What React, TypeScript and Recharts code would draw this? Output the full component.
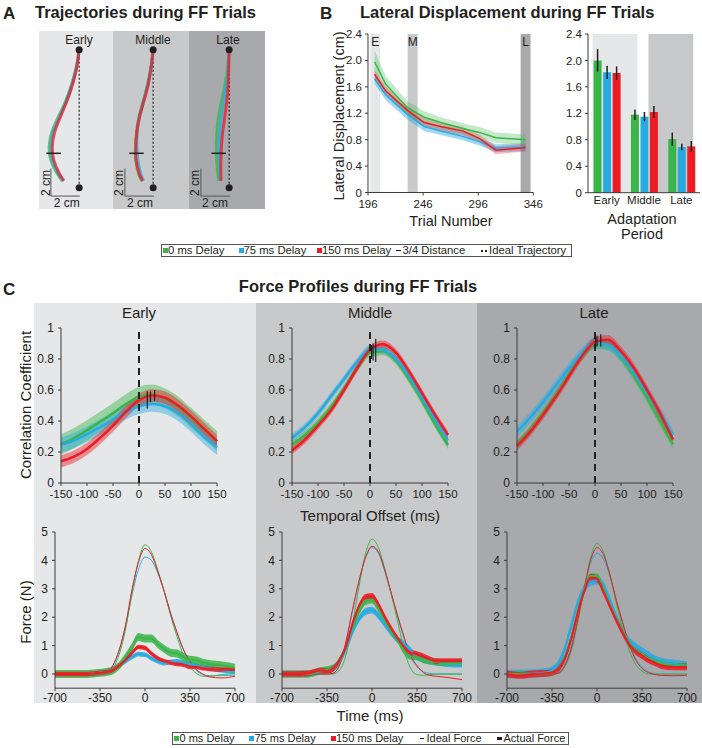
import React from 'react';
import {
  Area,
  Bar,
  BarChart,
  ComposedChart,
  ErrorBar,
  Line,
  LineChart,
  ReferenceArea,
  ReferenceDot,
  ReferenceLine,
  XAxis,
  YAxis,
} from 'recharts';

const FONT = '"Liberation Sans", Arial, Helvetica, sans-serif';
const GREEN = '#39b54a';
const BLUE = '#27aae1';
const RED = '#ed1c24';
const INK = '#231f20';
const BG_EARLY = '#e6e7e8';
const BG_MIDDLE = '#c8c9cb';
const BG_LATE = '#a7a9ac';
const SERIES_COLORS = [GREEN, BLUE, RED];
const PERIOD_BG = [BG_EARLY, BG_MIDDLE, BG_LATE];

// ---- A: hand paths (cm). forward = distance from the lower dot, lateral = offset from the ideal line
const TRAJ_FWD = [10, 9, 8, 7, 6, 5, 4, 3, 2, 1, 0.5];
const trajEarly0 = [0, -0.15, -0.38, -0.68, -1.05, -1.5, -1.9, -2.07, -1.95, -1.5, -1.15];
const trajEarly75 = [0, -0.13, -0.35, -0.64, -1.0, -1.42, -1.8, -1.95, -1.85, -1.42, -1.1];
const trajEarly150 = [0, -0.12, -0.32, -0.6, -0.95, -1.35, -1.7, -1.85, -1.75, -1.35, -1.05];
const trajMiddle0 = [0, -0.12, -0.28, -0.5, -0.76, -1.0, -1.15, -1.22, -1.2, -1.0, -0.78];
const trajMiddle75 = [0, -0.1, -0.26, -0.47, -0.73, -0.97, -1.1, -1.12, -1.05, -0.85, -0.65];
const trajMiddle150 = [0, -0.1, -0.25, -0.45, -0.72, -0.97, -1.13, -1.2, -1.17, -0.95, -0.72];
const trajLate0 = [0, -0.08, -0.2, -0.38, -0.58, -0.75, -0.85, -0.88, -0.86, -0.78, -0.72];
const trajLate75 = [0, -0.05, -0.12, -0.25, -0.4, -0.55, -0.66, -0.7, -0.7, -0.65, -0.62];
const trajLate150 = [0, -0.02, -0.05, -0.1, -0.2, -0.32, -0.45, -0.53, -0.57, -0.57, -0.56];
const QUARTER_FWD = 2.5;
const quarterCentre = [-1.76, -1.15, -0.72];

// ---- B: lateral displacement over trials
const TRIALS = [202, 212, 232, 247, 262, 282, 297, 312, 339];
const disp0 = [1.98, 1.64, 1.28, 1.14, 1.06, 0.97, 0.91, 0.83, 0.8];
const disp75 = [1.72, 1.48, 1.18, 1.0, 0.93, 0.85, 0.77, 0.67, 0.69];
const disp150 = [1.79, 1.54, 1.24, 1.06, 1.0, 0.93, 0.82, 0.64, 0.68];
const dispSd0 = [0.17, 0.12, 0.1, 0.09, 0.08, 0.08, 0.08, 0.08, 0.08];
const dispSd75 = [0.07, 0.08, 0.08, 0.07, 0.06, 0.06, 0.06, 0.06, 0.06];
const dispSd150 = [0.07, 0.07, 0.07, 0.07, 0.06, 0.06, 0.06, 0.06, 0.06];
const PERIOD_TRIALS = [[198, 207], [232, 241], [334.5, 343.5]];
const PERIOD_LETTERS = ['E', 'M', 'L'];

const PERIODS = ['Early', 'Middle', 'Late'];
const bar0 = [2.0, 1.18, 0.81];
const bar75 = [1.82, 1.15, 0.69];
const bar150 = [1.81, 1.22, 0.7];
const barErr0 = [0.17, 0.08, 0.1];
const barErr75 = [0.1, 0.07, 0.05];
const barErr150 = [0.1, 0.09, 0.08];

// ---- C top: correlation vs temporal offset
const LAGS = [-150, -125, -100, -75, -50, -25, 0, 25, 50, 75, 100, 125, 150];
const corrEarly0 = [0.25, 0.29, 0.34, 0.395, 0.45, 0.51, 0.555, 0.57, 0.545, 0.495, 0.42, 0.345, 0.27];
const corrEarly75 = [0.245, 0.275, 0.315, 0.36, 0.41, 0.46, 0.495, 0.51, 0.495, 0.45, 0.38, 0.3, 0.23];
const corrEarly150 = [0.14, 0.17, 0.22, 0.29, 0.37, 0.46, 0.535, 0.565, 0.55, 0.5, 0.43, 0.35, 0.27];
const corrMiddle0 = [0.25, 0.31, 0.39, 0.49, 0.61, 0.74, 0.84, 0.85, 0.79, 0.67, 0.53, 0.38, 0.245];
const corrMiddle75 = [0.29, 0.36, 0.45, 0.56, 0.67, 0.78, 0.865, 0.86, 0.8, 0.69, 0.55, 0.41, 0.275];
const corrMiddle150 = [0.21, 0.28, 0.37, 0.47, 0.6, 0.74, 0.86, 0.895, 0.84, 0.72, 0.58, 0.44, 0.31];
const corrLate0 = [0.25, 0.34, 0.45, 0.57, 0.7, 0.82, 0.895, 0.89, 0.81, 0.69, 0.55, 0.4, 0.25];
const corrLate75 = [0.33, 0.42, 0.52, 0.63, 0.74, 0.84, 0.905, 0.89, 0.82, 0.71, 0.58, 0.45, 0.31];
const corrLate150 = [0.24, 0.33, 0.44, 0.56, 0.69, 0.82, 0.91, 0.925, 0.85, 0.74, 0.6, 0.45, 0.28];
const corrSdEarly = [0.065, 0.05, 0.04];
const corrSdMiddle = [0.025, 0.025, 0.025];
const corrSdLate = [0.03, 0.035, 0.03];
const peakLagEarly = [16, 22, 30];
const peakLoEarly = [0.48, 0.52, 0.53];
const peakHiEarly = [0.59, 0.59, 0.6];
const peakLagMiddle = [3, 6, 11];
const peakLoMiddle = [0.8, 0.79, 0.78];
const peakHiMiddle = [0.89, 0.9, 0.93];
const peakLagLate = [1, 4, 11];
const peakLoLate = [0.88, 0.88, 0.88];
const peakHiLate = [0.94, 0.95, 0.96];

// ---- C bottom: force over time (N)
const TIME = [-700, -600, -500, -400, -350, -300, -250, -200, -150, -100, -50, 0, 50, 100, 150, 200, 250, 300, 350, 400, 450, 500, 600, 700];
const idealEarly0 = [0, 0, 0, 0, 0, 0.02, 0.2, 0.7, 1.6, 2.9, 4.0, 4.55, 4.3, 3.65, 2.9, 2.05, 1.3, 0.65, 0.25, 0.02, -0.08, -0.08, -0.02, 0.02];
const idealEarly75 = [0, 0, 0, 0, 0, 0.03, 0.3, 0.85, 1.7, 2.8, 3.7, 4.12, 4.0, 3.55, 2.9, 2.15, 1.45, 0.85, 0.4, 0.12, -0.02, -0.06, -0.06, -0.04];
const idealEarly150 = [0, 0, 0, 0, 0, 0.03, 0.3, 0.85, 1.75, 3.0, 3.95, 4.42, 4.2, 3.6, 2.9, 2.1, 1.45, 0.85, 0.45, 0.15, 0.0, -0.1, -0.14, -0.08];
const actEarly0 = [0, 0, 0, 0.02, 0.04, 0.07, 0.13, 0.3, 0.6, 0.95, 1.3, 1.25, 1.25, 1.05, 0.88, 0.75, 0.72, 0.6, 0.5, 0.48, 0.4, 0.35, 0.3, 0.22];
const actEarly75 = [0, 0, 0, 0.02, 0.05, 0.08, 0.15, 0.3, 0.45, 0.6, 0.7, 0.68, 0.55, 0.45, 0.38, 0.42, 0.45, 0.4, 0.35, 0.3, 0.25, 0.2, 0.12, 0.07];
const actEarly150 = [0, 0, 0, 0.02, 0.04, 0.07, 0.14, 0.3, 0.5, 0.75, 0.95, 0.92, 0.72, 0.55, 0.45, 0.4, 0.35, 0.33, 0.25, 0.25, 0.2, 0.18, 0.15, 0.15];
const idealMiddle0 = [0, 0, 0, 0, 0, 0, 0.15, 0.7, 1.8, 3.1, 4.25, 4.75, 4.45, 3.7, 2.8, 1.85, 0.85, 0.2, -0.02, -0.05, -0.02, 0, 0, 0];
const idealMiddle75 = [0, 0, 0, 0, 0, 0.03, 0.35, 1.15, 2.25, 3.3, 4.1, 4.45, 4.25, 3.6, 2.8, 2.0, 1.25, 0.6, 0.25, 0.08, 0.02, 0, 0, 0];
const idealMiddle150 = [0, 0, 0, 0, 0, 0.03, 0.35, 1.2, 2.3, 3.3, 4.1, 4.5, 4.3, 3.65, 2.85, 2.05, 1.3, 0.65, 0.3, 0.05, -0.05, -0.08, -0.13, -0.2];
const actMiddle0 = [0, 0, 0, 0.12, 0.15, 0.22, 0.5, 1.0, 1.65, 2.2, 2.55, 2.6, 2.3, 1.9, 1.5, 1.2, 0.8, 0.62, 0.6, 0.5, 0.45, 0.42, 0.4, 0.4];
const actMiddle75 = [0, 0, 0, 0.1, 0.12, 0.2, 0.45, 0.9, 1.5, 1.95, 2.2, 2.25, 2.05, 1.75, 1.45, 1.2, 1.05, 0.82, 0.6, 0.52, 0.45, 0.42, 0.36, 0.35];
const actMiddle150 = [0, 0, 0.02, 0.12, 0.1, 0.2, 0.5, 1.0, 1.8, 2.4, 2.72, 2.75, 2.45, 2.0, 1.6, 1.25, 0.95, 0.75, 0.7, 0.62, 0.52, 0.45, 0.45, 0.45];
const idealLate0 = [0, 0, 0, 0, 0, 0.02, 0.25, 0.8, 1.8, 3.0, 4.1, 4.6, 4.3, 3.5, 2.5, 1.6, 0.85, 0.35, 0.1, 0.0, 0, 0, 0, 0];
const idealLate75 = [0, 0, 0, 0, 0, 0.05, 0.35, 1.0, 2.0, 3.0, 3.9, 4.25, 4.05, 3.45, 2.6, 1.8, 1.1, 0.55, 0.25, 0.08, 0.02, 0, 0, 0];
const idealLate150 = [0, 0, 0, 0, 0, 0.03, 0.3, 0.9, 1.9, 3.0, 4.0, 4.45, 4.2, 3.5, 2.6, 1.8, 1.05, 0.5, 0.2, 0.05, -0.02, -0.05, -0.06, -0.05];
const actLate0 = [0, 0, 0, 0.02, 0.05, 0.2, 0.6, 1.3, 2.2, 2.95, 3.45, 3.45, 3.0, 2.45, 1.95, 1.5, 1.1, 0.85, 0.7, 0.55, 0.45, 0.38, 0.3, 0.3];
const actLate75 = [0, 0, 0.02, 0.05, 0.12, 0.35, 0.9, 1.7, 2.5, 3.0, 3.25, 3.3, 3.1, 2.6, 2.0, 1.5, 1.15, 0.95, 0.8, 0.65, 0.5, 0.42, 0.35, 0.3];
const actLate150 = [0, -0.05, 0, 0.02, 0.05, 0.18, 0.55, 1.25, 2.15, 2.9, 3.4, 3.35, 2.9, 2.4, 1.9, 1.45, 1.05, 0.8, 0.65, 0.5, 0.4, 0.3, 0.25, 0.25];
const forceSdEarly = [0.14, 0.08, 0.08];
const forceSdMiddle = [0.12, 0.12, 0.1];
const forceSdLate = [0.1, 0.15, 0.12];

const tickStyle = { fontSize: 12, fill: INK, fontFamily: FONT };
const tickStyleC = { fontSize: 11.5, fill: INK, fontFamily: FONT };
const tickStyleB = { fontSize: 11.5, fill: INK, fontFamily: FONT };
const axisStroke = { stroke: '#3a3a3a' };
const oneDecimal = (v: number) => (v === 0 ? '0' : v.toFixed(1));
const corrFormat = (v: number) => (v === 0 || v === 1 ? String(v) : v.toFixed(1));

const Txt = ({ x, y, size = 12, bold = false, vertical = false, start = false, children }: any) => (
  <div
    style={{
      position: 'absolute',
      left: x,
      top: y,
      transform: `translate(${start ? '0' : '-50%'}, -50%)${vertical ? ' rotate(-90deg)' : ''}`,
      fontSize: size,
      fontWeight: bold ? 700 : 400,
      lineHeight: 1,
      whiteSpace: 'nowrap',
      color: INK,
    }}
  >
    {children}
  </div>
);

const Panel = ({ left, top, width, height, color }: any) => (
  <div style={{ position: 'absolute', left, top, width, height, background: color }} />
);

const TrajPanel = ({ dotX, lats, quarter }: any) => {
  const pts = (lat: number[]) => TRAJ_FWD.map((y, i) => ({ x: lat[i], y }));
  return (
    <div style={{ position: 'absolute', left: dotX - 2.7 * 14.5, top: 36.2 }}>
      <LineChart width={72.5} height={172.5} margin={{ top: 0, right: 0, bottom: 0, left: 0 }}>
        <XAxis type="number" dataKey="x" domain={[-2.7, 2.3]} hide allowDataOverflow />
        <YAxis type="number" domain={[-1.5, 11]} hide allowDataOverflow />
        <ReferenceLine segment={[{ x: 0, y: 0 }, { x: 0, y: 10 }]} stroke={INK} strokeWidth={1.2} strokeDasharray="2 2" />
        <ReferenceDot x={0} y={0} r={3.5} fill={INK} stroke="none" />
        <ReferenceDot x={0} y={10} r={3.5} fill={INK} stroke="none" />
        {lats.map((lat: number[], k: number) => (
          <Line
            key={k}
            data={pts(lat)}
            dataKey="y"
            type="natural"
            stroke={SERIES_COLORS[k]}
            strokeWidth={3}
            strokeOpacity={0.75}
            dot={false}
            activeDot={false}
            isAnimationActive={false}
          />
        ))}
        <ReferenceLine
          segment={[{ x: quarter - 0.5, y: QUARTER_FWD }, { x: quarter + 0.5, y: QUARTER_FWD }]}
          stroke={INK}
          strokeWidth={1.5}
        />
        <ReferenceLine segment={[{ x: -1.95, y: -0.6 }, { x: 0.05, y: -0.6 }]} stroke="#555" />
        <ReferenceLine segment={[{ x: -1.95, y: -0.6 }, { x: -1.95, y: 1.4 }]} stroke="#555" />
      </LineChart>
    </div>
  );
};

const lineRows = TRIALS.map((t, i) => ({
  t,
  g: disp0[i],
  b: disp75[i],
  r: disp150[i],
  gB: [disp0[i] - dispSd0[i], disp0[i] + dispSd0[i]],
  bB: [disp75[i] - dispSd75[i], disp75[i] + dispSd75[i]],
  rB: [disp150[i] - dispSd150[i], disp150[i] + dispSd150[i]],
}));

const barRows = PERIODS.map((period, i) => ({
  period,
  v0: bar0[i],
  v75: bar75[i],
  v150: bar150[i],
  e0: barErr0[i],
  e75: barErr75[i],
  e150: barErr150[i],
}));

const CorrPanel = ({ x0, series, sd, peakLag, peakLo, peakHi }: any) => {
  const rows = LAGS.map((lag, i) => {
    const row: any = { lag };
    series.forEach((s: number[], k: number) => {
      row[`c${k}`] = s[i];
      row[`s${k}`] = [s[i] - sd[k], s[i] + sd[k]];
    });
    return row;
  });
  const order = [0, 1, 2];
  return (
    <div style={{ position: 'absolute', left: x0 - 30, top: 317.7 }}>
      <ComposedChart width={156 + 47} height={155 + 30} data={rows} margin={{ top: 10, right: 17, bottom: 0, left: 0 }}>
        <XAxis
          dataKey="lag"
          type="number"
          domain={[-150, 150]}
          ticks={[-150, -100, -50, 0, 50, 100, 150]}
          interval={0}
          height={20}
          tick={tickStyleC}
          tickSize={3}
          tickMargin={4}
          axisLine={axisStroke}
          tickLine={axisStroke}
        />
        <YAxis
          type="number"
          domain={[0, 1]}
          ticks={[0, 0.2, 0.4, 0.6, 0.8, 1]}
          interval={0}
          width={30}
          tick={tickStyle}
          tickSize={3}
          tickMargin={4}
          tickFormatter={corrFormat}
          axisLine={axisStroke}
          tickLine={axisStroke}
        />
        {order.map((k) => (
          <Area
            key={`a${k}`}
            dataKey={`s${k}`}
            type="monotone"
            stroke="none"
            fill={SERIES_COLORS[k]}
            fillOpacity={0.45}
            dot={false}
            activeDot={false}
            isAnimationActive={false}
          />
        ))}
        {order.map((k) => (
          <Line
            key={`l${k}`}
            dataKey={`c${k}`}
            type="monotone"
            stroke={SERIES_COLORS[k]}
            strokeWidth={2.5}
            dot={false}
            activeDot={false}
            isAnimationActive={false}
          />
        ))}
        <ReferenceLine x={0} stroke={INK} strokeWidth={2} strokeDasharray="7 5" />
        {peakLag.map((lag: number, k: number) => (
          <ReferenceLine key={`p${k}`} segment={[{ x: lag, y: peakLo[k] }, { x: lag, y: peakHi[k] }]} stroke={INK} strokeWidth={1.2} />
        ))}
      </ComposedChart>
    </div>
  );
};

const ForcePanel = ({ x0, ideal, actual, sd }: any) => {
  const rows = TIME.map((t, i) => {
    const row: any = { t };
    actual.forEach((s: number[], k: number) => {
      row[`i${k}`] = ideal[k][i];
      row[`a${k}`] = s[i];
      row[`b${k}`] = [s[i] - sd[k], s[i] + sd[k]];
    });
    return row;
  });
  const order = [1, 0, 2];
  return (
    <div style={{ position: 'absolute', left: x0 - 30, top: 522.3 }}>
      <ComposedChart width={180 + 45} height={156.2 + 30} data={rows} margin={{ top: 10, right: 15, bottom: 0, left: 0 }}>
        <XAxis
          dataKey="t"
          type="number"
          domain={[-700, 700]}
          ticks={[-700, -350, 0, 350, 700]}
          interval={0}
          height={20}
          tick={tickStyle}
          tickSize={3}
          tickMargin={2}
          axisLine={axisStroke}
          tickLine={axisStroke}
        />
        <YAxis
          type="number"
          domain={[-0.5, 5]}
          ticks={[0, 1, 2, 3, 4, 5]}
          interval={0}
          width={30}
          tick={tickStyle}
          tickSize={3}
          tickMargin={4}
          allowDataOverflow
          axisLine={axisStroke}
          tickLine={axisStroke}
        />
        {order.map((k) => (
          <Line
            key={`i${k}`}
            dataKey={`i${k}`}
            type="monotone"
            stroke={SERIES_COLORS[k]}
            strokeWidth={1}
            dot={false}
            activeDot={false}
            isAnimationActive={false}
          />
        ))}
        {order.map((k) => (
          <Area
            key={`b${k}`}
            dataKey={`b${k}`}
            type="monotone"
            stroke="none"
            fill={SERIES_COLORS[k]}
            fillOpacity={0.85}
            dot={false}
            activeDot={false}
            isAnimationActive={false}
          />
        ))}
        {order.map((k) => (
          <Line
            key={`a${k}`}
            dataKey={`a${k}`}
            type="monotone"
            stroke={SERIES_COLORS[k]}
            strokeWidth={2}
            dot={false}
            activeDot={false}
            isAnimationActive={false}
          />
        ))}
      </ComposedChart>
    </div>
  );
};

const Square = ({ x, y, color }: any) => (
  <div style={{ position: 'absolute', left: x, top: y - 2.5, width: 5, height: 5, background: color }} />
);

const Dash = ({ x, y, w, h }: any) => (
  <div style={{ position: 'absolute', left: x, top: y - h / 2, width: w, height: h, background: INK }} />
);

export default function App() {
  return (
    <div
      style={{
        position: 'absolute',
        left: 0,
        top: 0,
        width: 702,
        height: 748,
        background: '#fff',
        fontFamily: FONT,
        overflow: 'hidden',
      }}
    >
      {/* ---------------- A ---------------- */}
      <Txt x={3} y={13} size={17} bold start>A</Txt>
      <Txt x={35} y={12} size={16.5} bold start>Trajectories during FF Trials</Txt>
      <Panel left={39} top={31} width={74} height={178} color={BG_EARLY} />
      <Panel left={113} top={31} width={76} height={178} color={BG_MIDDLE} />
      <Panel left={189} top={31} width={76} height={178} color={BG_LATE} />
      <Txt x={79} y={40}>Early</Txt>
      <Txt x={153} y={40}>Middle</Txt>
      <Txt x={228} y={40}>Late</Txt>
      <TrajPanel dotX={79} lats={[trajEarly0, trajEarly75, trajEarly150]} quarter={quarterCentre[0]} />
      <TrajPanel dotX={153.3} lats={[trajMiddle0, trajMiddle75, trajMiddle150]} quarter={quarterCentre[1]} />
      <TrajPanel dotX={228.7} lats={[trajLate0, trajLate75, trajLate150]} quarter={quarterCentre[2]} />
      <Txt x={66.7} y={203}>2 cm</Txt>
      <Txt x={46} y={183} vertical>2 cm</Txt>
      <Txt x={140} y={203}>2 cm</Txt>
      <Txt x={119} y={183} vertical>2 cm</Txt>
      <Txt x={215} y={203}>2 cm</Txt>
      <Txt x={194.5} y={183} vertical>2 cm</Txt>

      {/* ---------------- B ---------------- */}
      <Txt x={320} y={13} size={17} bold start>B</Txt>
      <Txt x={360} y={12} size={16.5} bold start>Lateral Displacement during FF Trials</Txt>
      <Txt x={339} y={116} size={14.5} vertical>Lateral Displacement (cm)</Txt>
      <Txt x={451} y={221} size={14.5}>Trial Number</Txt>
      <div style={{ position: 'absolute', left: 367.7 - 30, top: 24 }}>
        <ComposedChart width={165.3 + 42} height={158.5 + 30} data={lineRows} margin={{ top: 10, right: 12, bottom: 0, left: 0 }}>
          <XAxis
            dataKey="t"
            type="number"
            domain={[196, 346]}
            ticks={[196, 246, 296, 346]}
            interval={0}
            height={20}
            tick={tickStyleB}
            tickSize={3}
            tickMargin={4}
            axisLine={axisStroke}
            tickLine={axisStroke}
          />
          <YAxis
            type="number"
            domain={[0, 2.4]}
            ticks={[0, 0.4, 0.8, 1.2, 1.6, 2.0, 2.4]}
            interval={0}
            width={30}
            tick={tickStyleB}
            tickSize={3}
            tickMargin={3}
            tickFormatter={oneDecimal}
            axisLine={axisStroke}
            tickLine={axisStroke}
          />
          {PERIOD_TRIALS.map(([a, b], i) => (
            <ReferenceArea
              key={PERIOD_LETTERS[i]}
              x1={a}
              x2={b}
              y1={0}
              y2={2.4}
              fill={PERIOD_BG[i]}
              fillOpacity={1}
              stroke="none"
              label={{ value: PERIOD_LETTERS[i], position: 'insideTop', offset: 3, fontSize: 12, fill: INK, fontFamily: FONT }}
            />
          ))}
          <Area dataKey="bB" type="linear" stroke="none" fill={BLUE} fillOpacity={0.45} isAnimationActive={false} />
          <Area dataKey="rB" type="linear" stroke="none" fill={RED} fillOpacity={0.3} isAnimationActive={false} />
          <Area dataKey="gB" type="linear" stroke="none" fill={GREEN} fillOpacity={0.3} isAnimationActive={false} />
          <Line dataKey="b" type="linear" stroke={BLUE} strokeWidth={1.5} dot={false} activeDot={false} isAnimationActive={false} />
          <Line dataKey="g" type="linear" stroke={GREEN} strokeWidth={1.5} dot={false} activeDot={false} isAnimationActive={false} />
          <Line dataKey="r" type="linear" stroke={RED} strokeWidth={1.5} dot={false} activeDot={false} isAnimationActive={false} />
        </ComposedChart>
      </div>

      <Txt x={642} y={219} size={14.5}>Adaptation</Txt>
      <Txt x={642} y={234} size={14.5}>Period</Txt>
      <div style={{ position: 'absolute', left: 588 - 30, top: 24 }}>
        <BarChart
          width={112 + 32}
          height={158.7 + 24 + 10}
          data={barRows}
          margin={{ top: 10, right: 2, bottom: 0, left: 0 }}
          barGap={1.5}
          barCategoryGap="15%"
        >
          <XAxis xAxisId="bg" type="number" domain={[0, 3]} hide />
          <XAxis
            dataKey="period"
            height={24}
            interval={0}
            tick={tickStyleB}
            tickLine={false}
            tickSize={0}
            tickMargin={3}
            axisLine={axisStroke}
          />
          <YAxis
            type="number"
            domain={[0, 2.4]}
            ticks={[0, 0.4, 0.8, 1.2, 1.6, 2.0, 2.4]}
            interval={0}
            width={30}
            tick={tickStyleB}
            tickSize={3}
            tickMargin={3}
            tickFormatter={oneDecimal}
            axisLine={axisStroke}
            tickLine={axisStroke}
          />
          {PERIODS.map((p, i) => (
            <ReferenceArea key={p} xAxisId="bg" x1={i + 0.08} x2={i + 0.88} y1={0} y2={2.4} fill={PERIOD_BG[i]} fillOpacity={1} stroke="none" />
          ))}
          <Bar dataKey="v0" fill={GREEN} isAnimationActive={false}>
            <ErrorBar dataKey="e0" width={0} stroke={INK} strokeWidth={1.5} direction="y" />
          </Bar>
          <Bar dataKey="v75" fill={BLUE} isAnimationActive={false}>
            <ErrorBar dataKey="e75" width={0} stroke={INK} strokeWidth={1.5} direction="y" />
          </Bar>
          <Bar dataKey="v150" fill={RED} isAnimationActive={false}>
            <ErrorBar dataKey="e150" width={0} stroke={INK} strokeWidth={1.5} direction="y" />
          </Bar>
        </BarChart>
      </div>

      {/* legend for A and B */}
      <div style={{ position: 'absolute', left: 161, top: 244, width: 411, height: 13, border: '1px solid #555', boxSizing: 'border-box' }} />
      <Square x={163} y={250.5} color={GREEN} />
      <Txt x={168} y={250.5} size={11.3} start>0 ms Delay</Txt>
      <Square x={238.5} y={250.5} color={BLUE} />
      <Txt x={243.5} y={250.5} size={11.3} start>75 ms Delay</Txt>
      <Square x={317} y={250.5} color={RED} />
      <Txt x={322} y={250.5} size={11.3} start>150 ms Delay</Txt>
      <Dash x={396} y={250.5} w={5} h={1.5} />
      <Txt x={402.5} y={250.5} size={11.3} start>3/4 Distance</Txt>
      <Dash x={481} y={250.5} w={2} h={2} />
      <Dash x={484.5} y={250.5} w={2} h={2} />
      <Txt x={489} y={250.5} size={11.3} start>Ideal Trajectory</Txt>

      {/* ---------------- C ---------------- */}
      <Txt x={3} y={289} size={17} bold start>C</Txt>
      <Txt x={358} y={286} size={16.5} bold>Force Profiles during FF Trials</Txt>
      <Panel left={34} top={303} width={222} height={400} color={BG_EARLY} />
      <Panel left={256} top={303} width={221} height={400} color={BG_MIDDLE} />
      <Panel left={477} top={303} width={225} height={400} color={BG_LATE} />
      <Txt x={139} y={312} size={15}>Early</Txt>
      <Txt x={370} y={312} size={15}>Middle</Txt>
      <Txt x={594} y={312} size={15}>Late</Txt>
      <Txt x={25} y={405} size={15} vertical>Correlation Coefficient</Txt>
      <Txt x={370} y={515} size={15}>Temporal Offset (ms)</Txt>
      <Txt x={25} y={612} size={15} vertical>Force (N)</Txt>
      <Txt x={370} y={715} size={15}>Time (ms)</Txt>

      <CorrPanel x0={60.7} series={[corrEarly0, corrEarly75, corrEarly150]} sd={corrSdEarly} peakLag={peakLagEarly} peakLo={peakLoEarly} peakHi={peakHiEarly} />
      <CorrPanel x0={291.7} series={[corrMiddle0, corrMiddle75, corrMiddle150]} sd={corrSdMiddle} peakLag={peakLagMiddle} peakLo={peakLoMiddle} peakHi={peakHiMiddle} />
      <CorrPanel x0={516.7} series={[corrLate0, corrLate75, corrLate150]} sd={corrSdLate} peakLag={peakLagLate} peakLo={peakLoLate} peakHi={peakHiLate} />

      <ForcePanel x0={55} ideal={[idealEarly0, idealEarly75, idealEarly150]} actual={[actEarly0, actEarly75, actEarly150]} sd={forceSdEarly} />
      <ForcePanel x0={281.7} ideal={[idealMiddle0, idealMiddle75, idealMiddle150]} actual={[actMiddle0, actMiddle75, actMiddle150]} sd={forceSdMiddle} />
      <ForcePanel x0={506.7} ideal={[idealLate0, idealLate75, idealLate150]} actual={[actLate0, actLate75, actLate150]} sd={forceSdLate} />

      {/* legend for C */}
      <div style={{ position: 'absolute', left: 171.7, top: 731.5, width: 397, height: 13.5, border: '1px solid #555', boxSizing: 'border-box' }} />
      <Square x={174} y={738.3} color={GREEN} />
      <Txt x={179.5} y={738.3} size={11} start>0 ms Delay</Txt>
      <Square x={249} y={738.3} color={BLUE} />
      <Txt x={254.5} y={738.3} size={11} start>75 ms Delay</Txt>
      <Square x={330.5} y={738.3} color={RED} />
      <Txt x={336} y={738.3} size={11} start>150 ms Delay</Txt>
      <Dash x={419.5} y={738.3} w={4} h={1} />
      <Txt x={426.5} y={738.3} size={11} start>Ideal Force</Txt>
      <Dash x={496.5} y={738.3} w={5.5} h={2.5} />
      <Txt x={503.5} y={738.3} size={11} start>Actual Force</Txt>
    </div>
  );
}
